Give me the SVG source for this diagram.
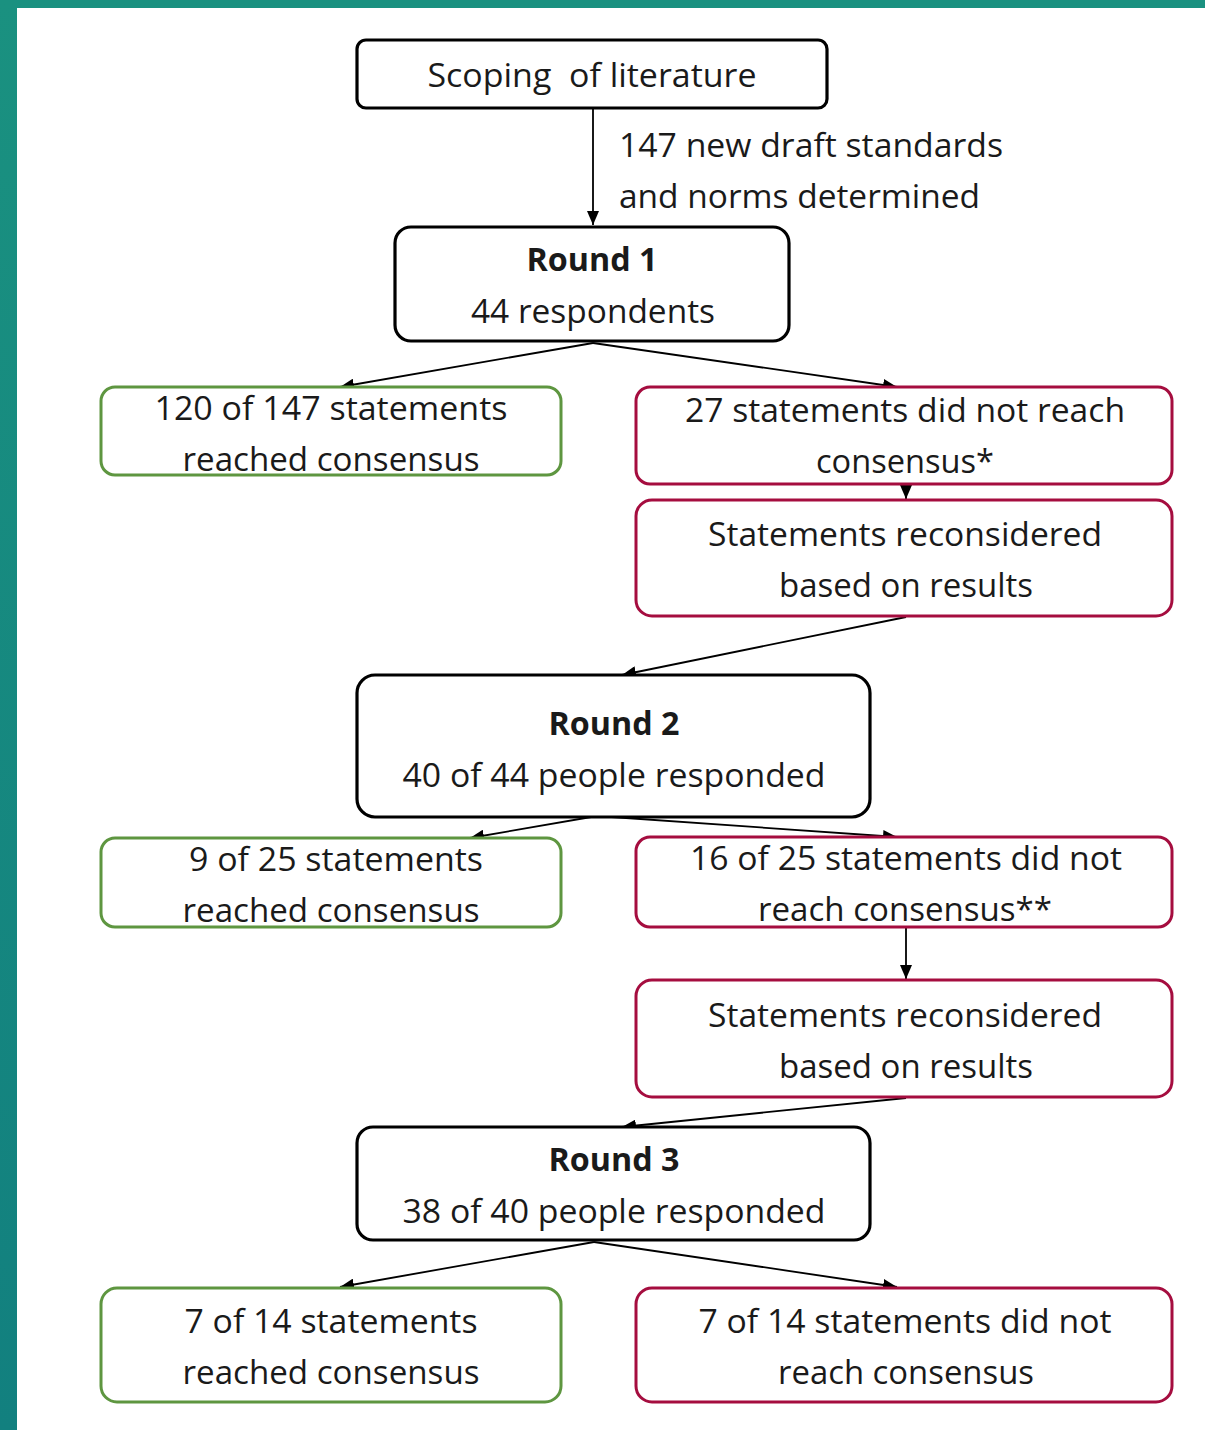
<svg xmlns="http://www.w3.org/2000/svg" width="1205" height="1430" viewBox="0 0 1205 1430">
<defs>
<linearGradient id="bg" x1="0" y1="0" x2="0" y2="1">
<stop offset="0" stop-color="#1a9180"/>
<stop offset="1" stop-color="#12807f"/>
</linearGradient>
<marker id="ah" viewBox="0 0 14 12" refX="14" refY="6" markerWidth="14" markerHeight="12" markerUnits="userSpaceOnUse" orient="auto">
<path d="M0,0 L14,6 L0,12 Z" fill="#000"/>
</marker>
<style>
text{font-family:"Open Sans","Liberation Sans",sans-serif;font-size:32px;fill:#1a1a1a;text-anchor:middle}
.b{font-weight:bold}
.l{text-anchor:start}
.k{fill:#fff;stroke:#000;stroke-width:3.2}
.g{fill:#fff;stroke:#5e9640;stroke-width:3}
.r{fill:#fff;stroke:#a50d3f;stroke-width:3}
.c{fill:none;stroke:#000;stroke-width:1.8;marker-end:url(#ah)}
</style>
</defs>
<rect x="0" y="0" width="1205" height="1430" fill="url(#bg)"/>
<rect x="17" y="8" width="1188" height="1422" fill="#fff"/>
<g id="connectors">
<path class="c" d="M593,108 L593,225"/>
<path class="c" d="M593,343 L340,387"/>
<path class="c" d="M593,343 L897,387"/>
<path class="c" d="M906,484 L906,499"/>
<path class="c" d="M906,617 L622,675"/>
<path class="c" d="M597,816 L470,838"/>
<path class="c" d="M597,816 L897,837"/>
<path class="c" d="M906,927 L906,979"/>
<path class="c" d="M906,1098 L622,1127"/>
<path class="c" d="M594,1242 L340,1287"/>
<path class="c" d="M594,1242 L897,1287"/>
</g>
<text class="l" x="619" y="157" textLength="384" lengthAdjust="spacingAndGlyphs">147 new draft standards</text>
<text class="l" x="619" y="208" textLength="361" lengthAdjust="spacingAndGlyphs">and norms determined</text>
<g id="scoping">
<rect class="k" x="357" y="40" width="470" height="68" rx="9"/>
<text x="592" y="87" textLength="329" lengthAdjust="spacingAndGlyphs">Scoping&#160; of literature</text>
</g>
<g id="round1">
<rect class="k" x="395" y="227" width="394" height="114" rx="16"/>
<text class="b" x="592" y="271" textLength="131" lengthAdjust="spacingAndGlyphs">Round 1</text>
<text x="593" y="323" textLength="244" lengthAdjust="spacingAndGlyphs">44 respondents</text>
</g>
<g id="r1yes">
<rect class="g" x="101" y="387" width="460" height="88" rx="14"/>
<text x="331" y="420" textLength="353" lengthAdjust="spacingAndGlyphs">120 of 147 statements</text>
<text x="331" y="471" textLength="297" lengthAdjust="spacingAndGlyphs">reached consensus</text>
</g>
<g id="r1no">
<rect class="r" x="636" y="387" width="536" height="97" rx="14"/>
<text x="905" y="422" textLength="440" lengthAdjust="spacingAndGlyphs">27 statements did not reach</text>
<text x="905" y="473" textLength="178" lengthAdjust="spacingAndGlyphs">consensus*</text>
</g>
<g id="recon1">
<rect class="r" x="636" y="500" width="536" height="116" rx="16"/>
<text x="905" y="546" textLength="394" lengthAdjust="spacingAndGlyphs">Statements reconsidered</text>
<text x="906" y="597" textLength="254" lengthAdjust="spacingAndGlyphs">based on results</text>
</g>
<g id="round2">
<rect class="k" x="357" y="675" width="513" height="142" rx="18"/>
<text class="b" x="614" y="735" textLength="131" lengthAdjust="spacingAndGlyphs">Round 2</text>
<text x="614" y="787" textLength="423" lengthAdjust="spacingAndGlyphs">40 of 44 people responded</text>
</g>
<g id="r2yes">
<rect class="g" x="101" y="838" width="460" height="89" rx="14"/>
<text x="336" y="871" textLength="294" lengthAdjust="spacingAndGlyphs">9 of 25 statements</text>
<text x="331" y="922" textLength="297" lengthAdjust="spacingAndGlyphs">reached consensus</text>
</g>
<g id="r2no">
<rect class="r" x="636" y="837" width="536" height="90" rx="14"/>
<text x="906" y="870" textLength="432" lengthAdjust="spacingAndGlyphs">16 of 25 statements did not</text>
<text x="905" y="921" textLength="294" lengthAdjust="spacingAndGlyphs">reach consensus**</text>
</g>
<g id="recon2">
<rect class="r" x="636" y="980" width="536" height="117" rx="16"/>
<text x="905" y="1027" textLength="394" lengthAdjust="spacingAndGlyphs">Statements reconsidered</text>
<text x="906" y="1078" textLength="254" lengthAdjust="spacingAndGlyphs">based on results</text>
</g>
<g id="round3">
<rect class="k" x="357" y="1127" width="513" height="113" rx="16"/>
<text class="b" x="614" y="1171" textLength="131" lengthAdjust="spacingAndGlyphs">Round 3</text>
<text x="614" y="1223" textLength="423" lengthAdjust="spacingAndGlyphs">38 of 40 people responded</text>
</g>
<g id="r3yes">
<rect class="g" x="101" y="1288" width="460" height="114" rx="16"/>
<text x="331" y="1333" textLength="293" lengthAdjust="spacingAndGlyphs">7 of 14 statements</text>
<text x="331" y="1384" textLength="297" lengthAdjust="spacingAndGlyphs">reached consensus</text>
</g>
<g id="r3no">
<rect class="r" x="636" y="1288" width="536" height="114" rx="16"/>
<text x="905" y="1333" textLength="413" lengthAdjust="spacingAndGlyphs">7 of 14 statements did not</text>
<text x="906" y="1384" textLength="256" lengthAdjust="spacingAndGlyphs">reach consensus</text>
</g>
</svg>
